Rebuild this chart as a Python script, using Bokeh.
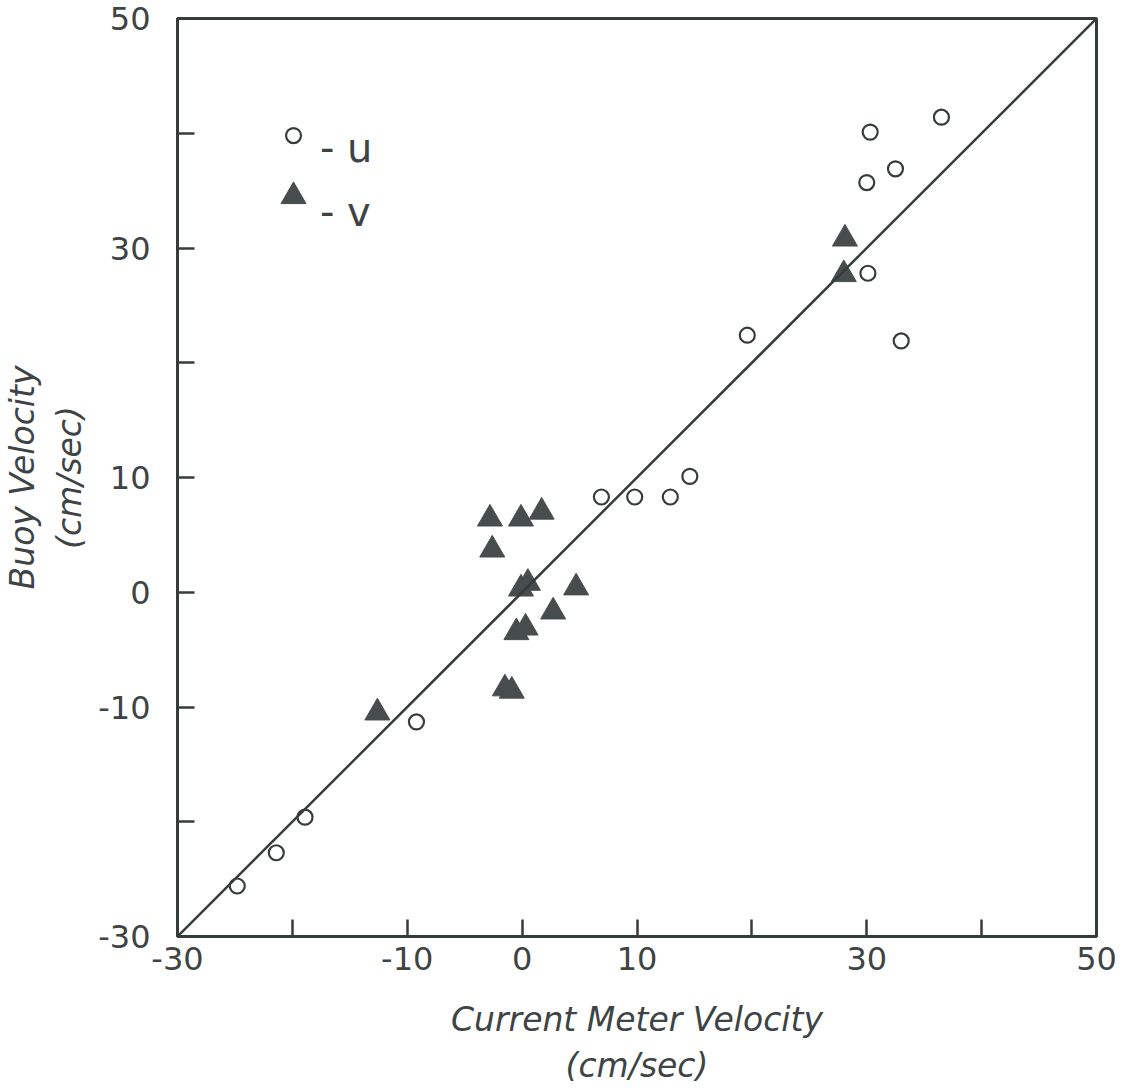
from bokeh.plotting import figure
from bokeh.models import Slope, FixedTicker, Label
from bokeh.embed import file_html
from bokeh.resources import INLINE

# ---- data ----
# u component: current meter velocity vs buoy velocity (cm/sec)
u_meter = [-24.8, -21.4, -18.9, -9.2, 6.9, 9.8, 12.9, 14.6, 19.6, 30.1, 33.0, 30.0, 32.5, 30.3, 36.5]
u_buoy = [-25.6, -22.7, -19.6, -11.3, 8.3, 8.3, 8.3, 10.1, 22.4, 27.8, 21.9, 35.7, 36.9, 40.1, 41.4]
# v component
v_meter = [-12.6, -2.8, -0.1, 1.7, -2.6, -0.1, 0.5, 4.7, 2.7, -0.5, 0.3, -1.5, -0.9, 28.1, 28.0]
v_buoy = [-10.5, 6.4, 6.4, 7.0, 3.7, 0.3, 0.8, 0.4, -1.7, -3.5, -3.1, -8.4, -8.6, 30.8, 27.7]

x_ticks = [-30, -20, -10, 0, 10, 20, 30, 40, 50]
x_tick_labels = ["-30", "", "-10", "0", "10", "", "30", "", "50"]
y_ticks = [-30, -20, -10, 0, 10, 20, 30, 40, 50]
y_tick_labels = ["-30", "", "-10", "0", "10", "", "30", "", "50"]

legend_labels = ["- u", "- v"]

INK = "#363c3c"
TEXT = "#3e4444"
FILL = "#474d4d"
FONT = "DejaVu Sans"

p = figure(width=1136, height=1091, x_range=(-30, 50), y_range=(-30, 50),
           output_backend="svg", toolbar_location=None,
           min_border_left=177, min_border_right=40,
           min_border_top=18, min_border_bottom=155,
           background_fill_color="white", border_fill_color="white")

p.xgrid.visible = False
p.ygrid.visible = False
p.outline_line_color = INK
p.outline_line_width = 3
p.outline_line_alpha = 1.0

for ax, ticks, labels in ((p.xaxis[0], x_ticks, x_tick_labels), (p.yaxis[0], y_ticks, y_tick_labels)):
    ax.ticker = FixedTicker(ticks=ticks)
    ax.major_label_overrides = {t: lab for t, lab in zip(ticks, labels)}
    ax.minor_tick_line_color = None
    ax.major_tick_in = 17
    ax.major_tick_out = 0
    ax.major_tick_line_width = 2.5
    ax.major_tick_line_color = INK
    ax.axis_line_color = INK
    ax.axis_line_width = 3
    ax.major_label_text_font = FONT
    ax.major_label_text_font_size = "32px"
    ax.major_label_text_color = TEXT
    ax.axis_label_text_font = FONT
    ax.axis_label_text_font_style = "italic"
    ax.axis_label_text_font_size = "33px"
    ax.axis_label_text_color = TEXT

p.xaxis[0].axis_label = "Current Meter Velocity\n(cm/sec)"
p.xaxis[0].major_label_standoff = 10
p.xaxis[0].axis_label_standoff = 27
p.yaxis[0].axis_label = "Buoy Velocity\n(cm/sec)"
p.yaxis[0].major_label_standoff = 27
p.yaxis[0].axis_label_standoff = 6

# 1:1 line
p.add_layout(Slope(gradient=1, y_intercept=0, line_color=INK, line_width=2.5))

# data
p.scatter(u_meter, u_buoy, marker="circle", size=15, fill_color="white",
          line_color=INK, line_width=2.2)
p.scatter(v_meter, v_buoy, marker="triangle", size=25, fill_color=FILL,
          line_color=FILL, line_width=1)

# legend (drawn in-plot like the original)
p.scatter([-19.9], [39.8], marker="circle", size=15, fill_color="white",
          line_color=INK, line_width=2.2)
p.scatter([-19.9], [34.5], marker="triangle", size=25, fill_color=FILL,
          line_color=FILL, line_width=1)
p.add_layout(Label(x=-17.6, y=38.7, text=legend_labels[0], text_font=FONT,
                   text_font_size="40px", text_color=TEXT, text_baseline="alphabetic"))
p.add_layout(Label(x=-17.6, y=33.1, text=legend_labels[1], text_font=FONT,
                   text_font_size="40px", text_color=TEXT, text_baseline="alphabetic"))

open("out.html", "w").write(file_html(p, INLINE))
